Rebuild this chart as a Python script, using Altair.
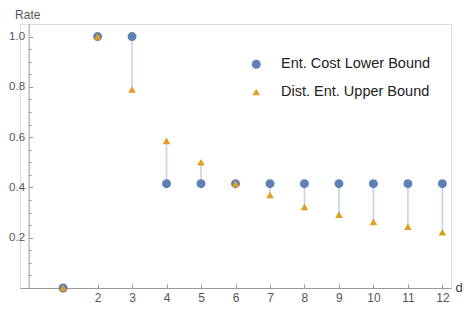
import altair as alt
import pandas as pd

d = [1, 2, 3, 4, 5, 6, 7, 8, 9, 10, 11, 12]
lower = [0.0, 1.0, 1.0, 0.415, 0.415, 0.415, 0.415, 0.415, 0.415, 0.415, 0.415, 0.415]
upper = [0.0, 1.0, 0.79, 0.585, 0.5, 0.415, 0.37, 0.322, 0.292, 0.263, 0.244, 0.222]
names = ["Ent. Cost Lower Bound", "Dist. Ent. Upper Bound"]
x_ticks = [2, 3, 4, 5, 6, 7, 8, 9, 10, 11, 12]
y_ticks = [0.2, 0.4, 0.6, 0.8, 1.0]
y_minor = [0.05, 0.1, 0.15, 0.25, 0.3, 0.35, 0.45, 0.5, 0.55, 0.65, 0.7, 0.75, 0.85, 0.9, 0.95]

BLUE = "#5E81B5"
ORANGE = "#E19C24"
AX = "#9A9A9A"
FONT = "Liberation Sans"

wide = pd.DataFrame({"d": d, "lower": lower, "upper": upper})
long = pd.DataFrame({
    "d": d + d,
    "rate": lower + upper,
    "series": [names[0]] * len(d) + [names[1]] * len(d),
})

W, H = 431, 264
XMIN, XMAX = -0.25, 12.25
x0_off = -(0 - XMIN) * W / (XMAX - XMIN)

xs = alt.Scale(domain=[XMIN, XMAX], nice=False, zero=False)
ys = alt.Scale(domain=[0, 1.05], nice=False, zero=False)

x_main = alt.Axis(values=x_ticks, ticks=False, labelPadding=4, labelFontSize=12,
                  labelColor="#555555", domainColor=AX, grid=False,
                  title="d", titleFontSize=13, titleFontWeight="normal", titleColor="#444444",
                  titleX=W + 4, titleY=-1, titleAlign="left", titleBaseline="middle")
y_main = alt.Axis(values=y_ticks, format=".1f", ticks=False, labelPadding=4, labelFontSize=11.5,
                  labelColor="#555555", domainColor=AX, grid=False, offset=x0_off,
                  title="Rate", titleFontSize=12, titleFontWeight="normal", titleColor="#555555",
                  titleAngle=0, titleX=-14, titleY=-6, titleAlign="left", titleBaseline="alphabetic")

rules = alt.Chart(wide).mark_rule(color="#C7D2E9", strokeWidth=1.6).encode(
    x=alt.X("d:Q", scale=xs, axis=x_main),
    y=alt.Y("lower:Q", scale=ys, axis=y_main),
    y2="upper:Q",
)

legend = alt.Legend(title=None, orient="none", legendX=229, legendY=33, labelFontSize=14.5,
                    labelColor="#222222", labelFont=FONT, symbolSize=38, rowPadding=12.7,
                    labelOffset=17.5, labelLimit=300, padding=0, symbolStrokeWidth=0)

points = alt.Chart(long).mark_point(filled=True, opacity=1).encode(
    x=alt.X("d:Q", scale=xs, axis=None),
    y=alt.Y("rate:Q", scale=ys, axis=None),
    color=alt.Color("series:N", scale=alt.Scale(domain=names, range=[BLUE, ORANGE]), legend=legend),
    shape=alt.Shape("series:N", scale=alt.Scale(domain=names, range=["circle", "triangle-up"]), legend=legend),
    size=alt.Size("series:N", scale=alt.Scale(domain=names, range=[80, 58]), legend=None),
)

tick_x = alt.Axis(orient="top", offset=-H, values=x_ticks, labels=False, domain=False,
                  tickSize=4, tickColor=AX, grid=False, title=None)
tick_y = alt.Axis(orient="right", offset=-(W + x0_off), values=y_ticks, labels=False,
                  domain=False, tickSize=4, tickColor=AX, grid=False, title=None)
ticks1 = alt.Chart(wide).mark_rule(opacity=0).encode(
    x=alt.X("d:Q", scale=xs, axis=tick_x),
    y=alt.Y("lower:Q", scale=ys, axis=tick_y),
)

minor_y = alt.Axis(orient="right", offset=-(W + x0_off), values=y_minor, labels=False,
                   domain=False, tickSize=2.5, tickColor=AX, grid=False, title=None)
ticks2 = alt.Chart(wide).mark_rule(opacity=0).encode(
    x=alt.X("d:Q", scale=xs, axis=None),
    y=alt.Y("lower:Q", scale=ys, axis=minor_y),
)

chart = alt.layer(rules, ticks1, ticks2, points).resolve_axis(
    x="independent", y="independent"
).properties(
    width=W, height=H, padding=0
).configure_view(stroke=None).configure(font=FONT)

chart.save("out.html", embed_options={"renderer": "svg", "actions": False})
